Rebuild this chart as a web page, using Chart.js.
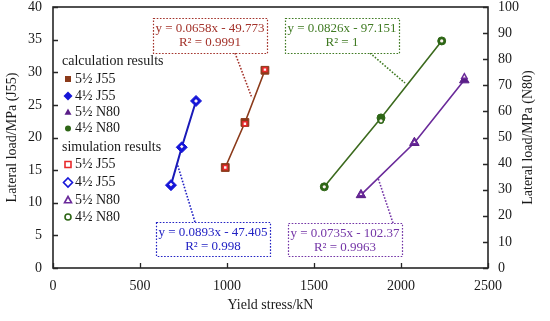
<!DOCTYPE html>
<html>
<head>
<meta charset="utf-8">
<script src="https://cdn.jsdelivr.net/npm/chart.js@4.4.0/dist/chart.umd.min.js"></script>
<style>
html, body { margin: 0; padding: 0; background: #fff; }
</style>
</head>
<body>
<canvas id="grafico" width="550" height="321"></canvas>
<script>
// dados
const ticksX = [0, 500, 1000, 1500, 2000, 2500];
const ticksJ55 = [0, 5, 10, 15, 20, 25, 30, 35, 40];
const ticksN80 = [0, 10, 20, 30, 40, 50, 60, 70, 80, 90, 100];

const rotulos = ["5½ J55", "4½ J55", "5½ N80", "4½ N80"];

const tensao55J55 = [990, 1103, 1218];
const calc55J55 = [15.4, 22.3, 30.3];
const sim55J55 = [15.4, 22.1, 30.4];

const tensao45J55 = [678, 740, 822];
const calc45J55 = [12.7, 18.5, 25.6];
const sim45J55 = [12.8, 18.6, 25.6];

const tensao55N80 = [1770, 2077, 2364];
const calc55N80 = [28.0, 48.0, 72.0];
const sim55N80 = [28.3, 48.2, 73.3];

const tensao45N80 = [1559, 1885, 2234];
const calc45N80 = [31.1, 57.5, 87.0];
const sim45N80 = [31.1, 56.4, 87.0];

const equacoes = ["y = 0.0658x - 49.773", "y = 0.0826x - 97.151", "y = 0.0893x - 47.405", "y = 0.0735x - 102.37"];
const coefR2 = ["R² = 0.9991", "R² = 1", "R² = 0.998", "R² = 0.9963"];

const FONTE = "'Liberation Serif', 'Times New Roman', serif";
const EIXO = '#262626';

const estilos = [
    { forma: 'rect', cor: '#8B3A1A', corSim: '#E8282B', linha: '#8B3A1A', eixo: 'y', rCalc: 5.5, rSim: 2.8 },
    { forma: 'rectRot', cor: '#1515D8', corSim: '#1515D8', linha: '#1A1AB8', eixo: 'y', rCalc: 5.5, rSim: 3 },
    { forma: 'triangle', cor: '#5A1E88', corSim: '#6A2A9A', linha: '#6A2A9A', eixo: 'y2', rCalc: 5.5, rSim: 3 },
    { forma: 'circle', cor: '#2E6616', corSim: '#2E6616', linha: '#3C6A1E', eixo: 'y2', rCalc: 4, rSim: 2.4 }
];

const pontos = (xs, ys) => xs.map((x, i) => ({ x: x, y: ys[i] }));

const xsSeries = [tensao55J55, tensao45J55, tensao55N80, tensao45N80];
const calcSeries = [calc55J55, calc45J55, calc55N80, calc45N80];
const simSeries = [sim55J55, sim45J55, sim55N80, sim45N80];

const datasets = [];
// simulação por cima
simSeries.forEach((ys, i) => {
    const e = estilos[i];
    datasets.push({
        label: "sim " + rotulos[i],
        data: pontos(xsSeries[i], ys),
        yAxisID: e.eixo,
        pointStyle: e.forma,
        pointRadius: e.rSim,
        borderWidth: 1.5,
        pointBorderColor: e.corSim,
        pointBackgroundColor: '#fdf2f2',
        showLine: false
    });
});
calcSeries.forEach((ys, i) => {
    const e = estilos[i];
    datasets.push({
        label: "calc " + rotulos[i],
        data: pontos(xsSeries[i], ys),
        yAxisID: e.eixo,
        pointStyle: e.forma,
        pointRadius: e.rCalc,
        pointBorderWidth: 1,
        pointBorderColor: e.cor,
        pointBackgroundColor: e.cor,
        borderColor: e.linha,
        borderWidth: i === 1 ? 2 : 1.6,
        showLine: true,
        tension: 0
    });
});

// desenha um marcador simples para a legenda
function marcador(ctx, forma, x, y, cor, cheio) {
    ctx.save();
    ctx.beginPath();
    if (forma === 'rect') {
        ctx.rect(x - 3, y - 3, 6, 6);
    } else if (forma === 'rectRot') {
        ctx.moveTo(x, y - 4.5); ctx.lineTo(x + 4.5, y); ctx.lineTo(x, y + 4.5); ctx.lineTo(x - 4.5, y);
        ctx.closePath();
    } else if (forma === 'triangle') {
        ctx.moveTo(x, y - 3.5); ctx.lineTo(x + 3.5, y + 2.8); ctx.lineTo(x - 3.5, y + 2.8);
        ctx.closePath();
    } else {
        ctx.arc(x, y, 3, 0, Math.PI * 2);
    }
    if (cheio) {
        ctx.fillStyle = cor;
        ctx.fill();
    } else {
        ctx.fillStyle = '#fff';
        ctx.fill();
        ctx.lineWidth = 1.6;
        ctx.strokeStyle = cor;
        ctx.stroke();
    }
    ctx.restore();
}

const pluginExtras = {
    id: 'extras',
    afterDraw(chart) {
        const ctx = chart.ctx;
        const a = chart.chartArea;
        const sx = chart.scales.x, sy = chart.scales.y, sy2 = chart.scales.y2;

        // moldura
        ctx.save();
        ctx.strokeStyle = EIXO;
        ctx.lineWidth = 1.6;
        ctx.strokeRect(a.left, a.top, a.right - a.left, a.bottom - a.top);

        // marcas para dentro
        ctx.lineWidth = 1.3;
        ctx.beginPath();
        ticksX.forEach(v => {
            const px = Math.round(sx.getPixelForValue(v)) + 0.5;
            ctx.moveTo(px, a.bottom); ctx.lineTo(px, a.bottom - 5);
        });
        ticksJ55.forEach(v => {
            const py = Math.round(sy.getPixelForValue(v)) + 0.5;
            ctx.moveTo(a.left, py); ctx.lineTo(a.left + 5, py);
        });
        ticksN80.forEach(v => {
            const py = Math.round(sy2.getPixelForValue(v)) + 0.5;
            ctx.moveTo(a.right, py); ctx.lineTo(a.right - 5, py);
        });
        ctx.stroke();

        // título do eixo da direita (lido de baixo para cima)
        ctx.translate(528, (a.top + a.bottom) / 2);
        ctx.rotate(-Math.PI / 2);
        ctx.font = "14px " + FONTE;
        ctx.fillStyle = '#1a1a1a';
        ctx.textAlign = 'center';
        ctx.textBaseline = 'middle';
        ctx.fillText("Lateral load/MPa (N80)", 0, 0);
        ctx.restore();

        // caixas das equações
        const caixas = [
            { i: 0, cor: '#A3322A', x: 153, y: 18, w: 114, h: 35, ligacao: [235, 53, 252, 98] },
            { i: 1, cor: '#3F7A22', x: 285, y: 18, w: 114, h: 35, ligacao: [370, 53, 405, 83] },
            { i: 2, cor: '#2222C4', x: 156, y: 222, w: 114, h: 34, ligacao: [195, 222, 177, 163] },
            { i: 3, cor: '#7334A6', x: 288, y: 223, w: 114, h: 33, ligacao: [393, 223, 378, 178] }
        ];
        caixas.forEach(c => {
            ctx.save();
            ctx.setLineDash([1.6, 1.6]);
            ctx.strokeStyle = c.cor;
            ctx.lineWidth = 1.6;
            ctx.beginPath();
            ctx.moveTo(c.ligacao[0], c.ligacao[1]);
            ctx.lineTo(c.ligacao[2], c.ligacao[3]);
            ctx.stroke();
            ctx.fillStyle = '#fff';
            ctx.fillRect(c.x, c.y, c.w, c.h);
            ctx.lineWidth = 1.2;
            ctx.strokeRect(c.x + 0.5, c.y + 0.5, c.w, c.h);
            ctx.setLineDash([]);
            ctx.font = "13px " + FONTE;
            ctx.fillStyle = c.cor;
            ctx.textAlign = 'center';
            ctx.textBaseline = 'middle';
            ctx.fillText(equacoes[c.i], c.x + c.w / 2, c.y + 11);
            ctx.fillText(coefR2[c.i], c.x + c.w / 2, c.y + 25);
            ctx.restore();
        });

        // legenda
        ctx.save();
        ctx.font = "14px " + FONTE;
        ctx.fillStyle = '#1a1a1a';
        ctx.textBaseline = 'middle';
        ctx.textAlign = 'left';
        ctx.fillText("calculation results", 62, 61);
        ctx.fillText("simulation results", 62, 147);
        const ysCalc = [79, 96, 112, 128.5];
        const ysSim = [164.5, 182.5, 200, 217];
        rotulos.forEach((r, i) => {
            const e = estilos[i];
            marcador(ctx, e.forma, 68, ysCalc[i], e.cor, true);
            marcador(ctx, e.forma, 68, ysSim[i], e.corSim, false);
            ctx.fillStyle = '#1a1a1a';
            ctx.fillText(r, 75, ysCalc[i]);
            ctx.fillText(r, 75, ysSim[i]);
        });
        ctx.restore();
    }
};

const fonteTick = { family: FONTE, size: 14 };
const semFormato = v => String(v);

new Chart(document.getElementById("grafico").getContext("2d"), {
    type: 'scatter',
    data: { datasets: datasets },
    options: {
        responsive: false,
        animation: false,
        devicePixelRatio: 1,
        layout: { padding: { top: 7, left: 0, right: 0, bottom: 0 } },
        plugins: {
            legend: { display: false },
            tooltip: { enabled: false }
        },
        scales: {
            x: {
                type: 'linear',
                min: 0, max: 2500,
                afterBuildTicks: s => { s.ticks = ticksX.map(v => ({ value: v })); },
                afterFit: s => { s.height = 53; s.paddingLeft = 0; s.paddingRight = 0; },
                grid: { display: false, drawTicks: false },
                border: { display: false },
                ticks: { font: fonteTick, color: '#1a1a1a', padding: 10, callback: semFormato },
                title: { display: true, text: "Yield stress/kN", font: { family: FONTE, size: 14 }, color: '#1a1a1a', padding: { top: 0, bottom: 7 } }
            },
            y: {
                position: 'left',
                min: 0, max: 40,
                afterBuildTicks: s => { s.ticks = ticksJ55.map(v => ({ value: v })); },
                afterFit: s => { s.width = 53; s.paddingTop = 0; s.paddingBottom = 0; },
                grid: { display: false, drawTicks: false },
                border: { display: false },
                ticks: { font: fonteTick, color: '#1a1a1a', padding: 11, callback: semFormato },
                title: { display: true, text: "Lateral load/MPa (J55)", font: { family: FONTE, size: 14 }, color: '#1a1a1a', padding: { top: 4, bottom: 0 } }
            },
            y2: {
                position: 'right',
                min: 0, max: 100,
                afterBuildTicks: s => { s.ticks = ticksN80.map(v => ({ value: v })); },
                afterFit: s => { s.width = 62; s.paddingTop = 0; s.paddingBottom = 0; },
                grid: { display: false, drawTicks: false },
                border: { display: false },
                ticks: { font: fonteTick, color: '#1a1a1a', padding: 10, callback: semFormato }
            }
        }
    },
    plugins: [pluginExtras]
});
</script>
</body>
</html>
